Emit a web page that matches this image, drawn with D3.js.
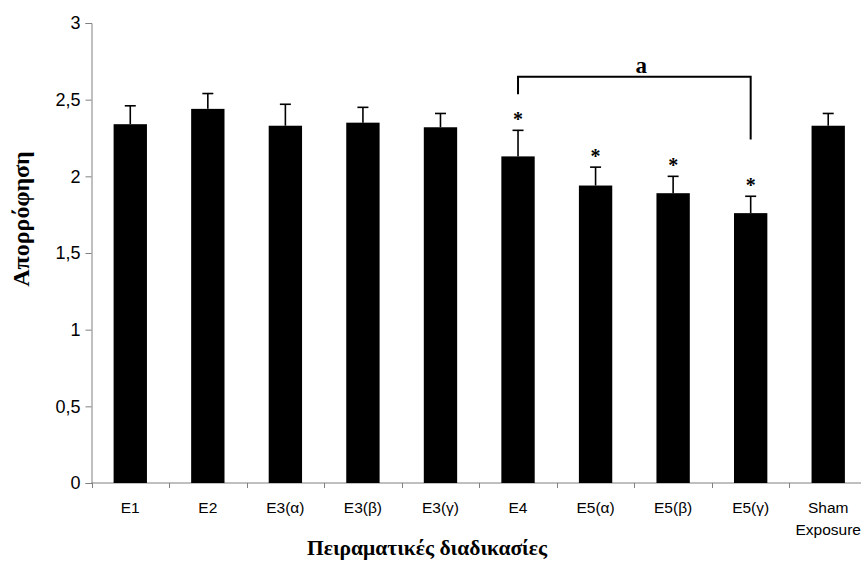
<!DOCTYPE html>
<html>
<head>
<meta charset="utf-8">
<script src="https://cdn.jsdelivr.net/npm/d3@7"></script>
<style>
  body { margin: 0; background: #fff; }
  .tick text { font-family: "Liberation Sans", Arial, sans-serif; fill: #000; }
  .title { font-family: "Liberation Serif", "Times New Roman", serif; font-weight: bold; fill: #000; }
</style>
</head>
<body>
<div id="chart"></div>
<script>
var w = 861;
var h = 571;

var categories = ["E1", "E2", "E3(α)", "E3(β)", "E3(γ)", "E4", "E5(α)", "E5(β)", "E5(γ)", "Sham Exposure"];
var means = [2.34, 2.44, 2.33, 2.35, 2.32, 2.13, 1.94, 1.89, 1.76, 2.33];
var errors = [0.12, 0.10, 0.14, 0.10, 0.09, 0.17, 0.12, 0.11, 0.11, 0.08];
var significant = [false, false, false, false, false, true, true, true, true, false];
var yTicks = [0, 0.5, 1, 1.5, 2, 2.5, 3];

// bracket between E4 and E5(γ), heights in data units
var bracket = { from: "E4", to: "E5(γ)", top: 2.65, leftEnd: 2.535, rightEnd: 2.24, label: "a" };

var dataset = categories.map(function(c, i) {
  return { name: c, mean: means[i], err: errors[i], sig: significant[i] };
});

var xScale = d3.scaleBand()
  .domain(categories)
  .range([91.5, 867]);

var yScale = d3.scaleLinear()
  .domain([0, 3])
  .range([483, 23]);

var barW = xScale.bandwidth() * 0.43;

var svg = d3.select("#chart")
  .append("svg")
  .attr("width", w)
  .attr("height", h);

//Y axis
var yAxis = d3.axisLeft(yScale)
  .tickValues(yTicks)
  .tickSize(6)
  .tickPadding(5)
  .tickFormat(function(d) { return String(d).replace(".", ","); });

var gy = svg.append("g")
  .attr("transform", "translate(91.5,0)")
  .call(yAxis);
gy.selectAll("path, line").attr("stroke", "#808080");
gy.selectAll("text").style("font-size", "18px");

//X axis: ticks on band edges, like Excel
var gx = svg.append("g")
  .attr("transform", "translate(0," + yScale(0) + ")");
gx.append("line")
  .attr("x1", 91.5).attr("x2", w)
  .attr("stroke", "#808080");
gx.selectAll(".xt")
  .data(categories)
  .enter().append("line")
  .attr("class", "xt")
  .attr("x1", function(d) { return Math.round(xScale(d)) + 0.5; })
  .attr("x2", function(d) { return Math.round(xScale(d)) + 0.5; })
  .attr("y1", 0).attr("y2", 5)
  .attr("stroke", "#808080");

var xl = gx.selectAll(".xl")
  .data(categories)
  .enter().append("text")
  .attr("class", "xl")
  .attr("text-anchor", "middle")
  .attr("y", 30)
  .style("font-family", "Liberation Sans, Arial, sans-serif")
  .style("font-size", "15.5px");
xl.each(function(d) {
  var t = d3.select(this);
  var cx = xScale(d) + xScale.bandwidth() / 2;
  d.split(" ").forEach(function(part, i) {
    t.append("tspan")
      .attr("x", cx)
      .attr("dy", i === 0 ? 0 : 22)
      .text(part);
  });
});

//Bars
svg.selectAll(".bar")
  .data(dataset)
  .enter().append("rect")
  .attr("class", "bar")
  .attr("x", function(d) { return xScale(d.name) + (xScale.bandwidth() - barW) / 2; })
  .attr("y", function(d) { return yScale(d.mean); })
  .attr("width", barW)
  .attr("height", function(d) { return yScale(0) - yScale(d.mean); })
  .attr("fill", "#000");

//Error bars (upper only)
var eb = svg.selectAll(".err")
  .data(dataset)
  .enter().append("g")
  .attr("class", "err")
  .attr("stroke", "#000")
  .attr("stroke-width", 1.6);
eb.append("line")
  .attr("x1", function(d) { return xScale(d.name) + xScale.bandwidth() / 2; })
  .attr("x2", function(d) { return xScale(d.name) + xScale.bandwidth() / 2; })
  .attr("y1", function(d) { return yScale(d.mean); })
  .attr("y2", function(d) { return yScale(d.mean + d.err); });
eb.append("line")
  .attr("x1", function(d) { return xScale(d.name) + xScale.bandwidth() / 2 - 5.5; })
  .attr("x2", function(d) { return xScale(d.name) + xScale.bandwidth() / 2 + 5.5; })
  .attr("y1", function(d) { return yScale(d.mean + d.err); })
  .attr("y2", function(d) { return yScale(d.mean + d.err); });

//Asterisks
svg.selectAll(".star")
  .data(dataset.filter(function(d) { return d.sig; }))
  .enter().append("text")
  .attr("class", "title star")
  .attr("text-anchor", "middle")
  .attr("x", function(d) { return xScale(d.name) + xScale.bandwidth() / 2; })
  .attr("y", function(d) { return yScale(d.mean + d.err) - 4; })
  .style("font-size", "20px")
  .text("*");

//Bracket
var bx1 = xScale(bracket.from) + xScale.bandwidth() / 2;
var bx2 = xScale(bracket.to) + xScale.bandwidth() / 2;
svg.append("path")
  .attr("d", "M" + bx1 + "," + yScale(bracket.leftEnd) +
             "V" + yScale(bracket.top) +
             "H" + bx2 +
             "V" + yScale(bracket.rightEnd))
  .attr("fill", "none")
  .attr("stroke", "#000")
  .attr("stroke-width", 2);
svg.append("text")
  .attr("class", "title")
  .attr("text-anchor", "middle")
  .attr("x", (bx1 + bx2) / 2 + 7)
  .attr("y", yScale(bracket.top) - 4)
  .style("font-size", "23px")
  .text(bracket.label);

//Axis titles
svg.append("text")
  .attr("class", "title")
  .attr("text-anchor", "middle")
  .attr("x", 427)
  .attr("y", 555)
  .style("font-size", "21.5px")
  .text("Πειραματικές διαδικασίες");

svg.append("text")
  .attr("class", "title")
  .attr("text-anchor", "middle")
  .attr("transform", "translate(28.5,219) rotate(-90)")
  .style("font-size", "24px")
  .text("Απορρόφηση");
</script>
</body>
</html>
